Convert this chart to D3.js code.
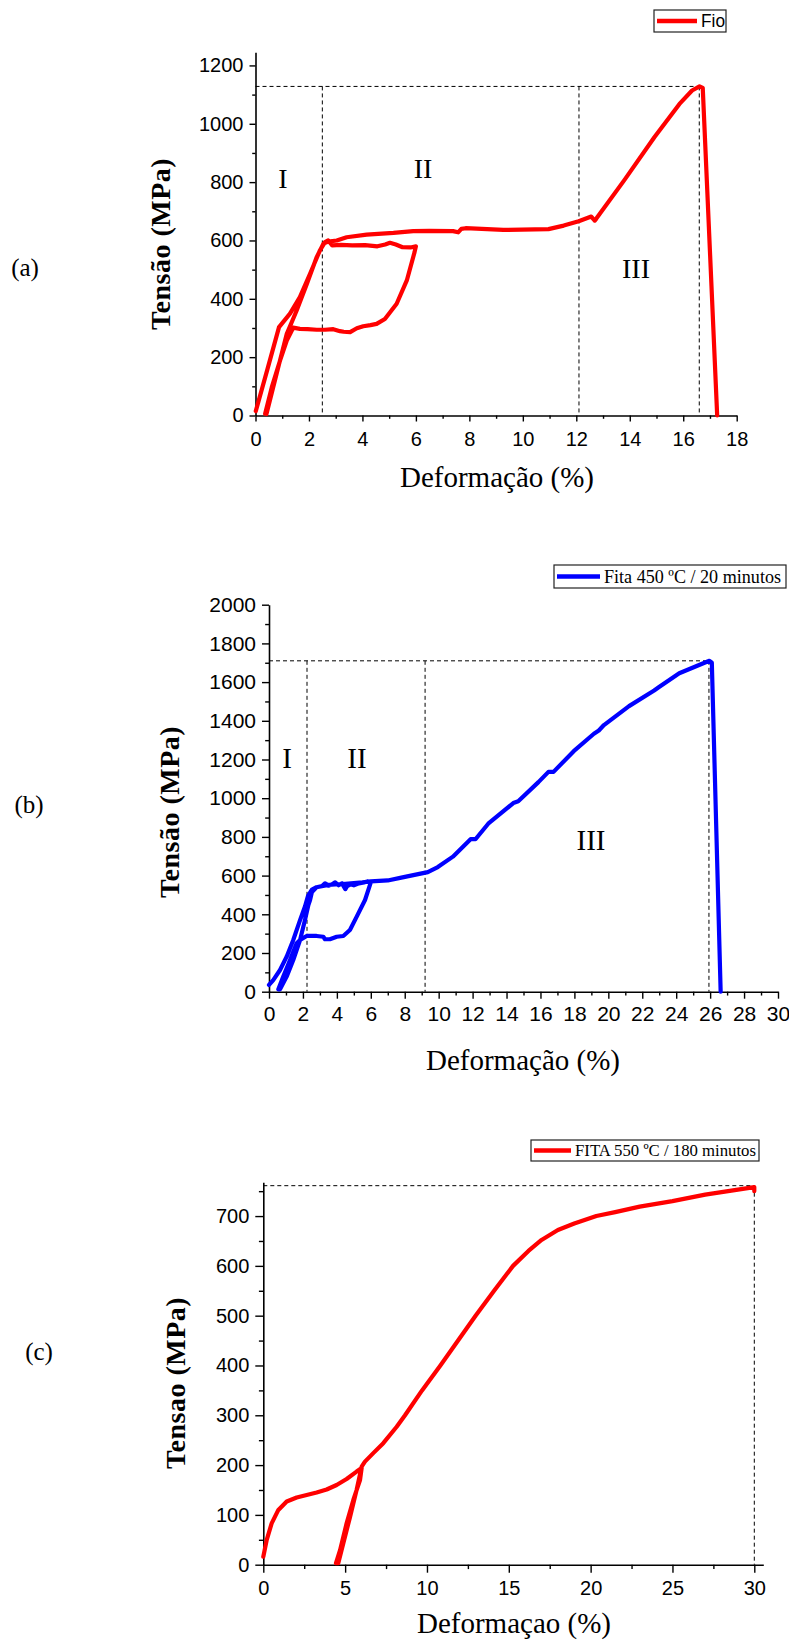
<!DOCTYPE html>
<html><head><meta charset="utf-8">
<script src="https://cdn.jsdelivr.net/npm/d3@7"></script>
<style>
body{margin:0;background:#fff;}
svg{display:block;}
</style></head>
<body>
<svg id="chart" width="789" height="1644"></svg>
<script>
// ---------- (a) Fio ----------
const fioStrain = [0.01,0.45,0.88,1.29,1.66,2.04,2.41,2.6,2.72,2.87,3.2,3.62,4.1,4.56,4.85,5.03,5.25,5.5,5.8,6.0,
  5.95,5.66,5.28,4.84,4.53,4.3,4.03,3.79,3.54,3.3,3.16,2.91,2.6,2.29,1.95,1.66,1.41,1.17,0.92,0.61,0.36,
  0.41,0.79,1.17,1.54,1.92,2.29,2.54,2.72,3.04,3.41,4.16,5.16,5.9,6.5,7.39,7.58,7.7,7.86,9.27,10.96,11.53,12.09,12.56,12.69,12.75,13.79,14.92,15.86,16.33,16.61,16.73,17.27];
const fioStress = [15,160,303,349,406,486,566,594,600,583,585,583,584,580,586,592,586,577,576,580,
  560,463,383,331,314,310,306,299,286,287,289,296,294,294,296,297,301,257,189,97,6,
  5,143,280,360,451,543,589,596,600,611,620,626,632,633,632,628,640,642,636,639,651,666,682,668,675,806,954,1068,1114,1128,1123,0];
const fioXTicks = [0,2,4,6,8,10,12,14,16,18];
const fioYTicks = [0,200,400,600,800,1000,1200];
const fioPeak = 1128;
const fioDividers = [2.5,12.1,16.6];

// ---------- (b) Fita 450 ----------
const f450Strain = [0,0.25,0.65,1.04,1.43,1.83,2.12,2.3,2.53,2.8,3.13,3.3,3.5,3.72,3.9,4.1,4.3,4.5,4.6,4.8,5.0,5.3,5.6,5.8,6.0,
  5.66,5.17,4.77,4.38,3.99,3.59,3.3,3.2,2.81,2.22,1.83,1.63,1.24,0.84,0.55,
  0.65,1.04,1.43,1.83,2.12,2.32,2.42,2.53,2.8,3.5,4.5,5.5,6.0,7.0,7.87,9.36,9.95,10.84,11.88,12.17,12.92,14.4,14.69,15.88,16.47,16.77,17.96,19.15,19.44,19.74,21.22,22.7,22.99,24.18,25.67,25.96,26.1,26.62];
const f450Stress = [35,60,112,181,267,370,440,495,528,540,546,560,548,555,565,550,560,530,545,555,550,560,565,570,565,
  474,388,319,288,284,271,271,284,288,288,267,250,164,78,12,
  12,78,164,267,370,448,474,515,540,552,558,565,570,575,591,618,644,698,788,788,868,975,984,1083,1136,1136,1243,1333,1350,1378,1476,1557,1575,1646,1700,1710,1700,0];
const f450XTicks = [0,2,4,6,8,10,12,14,16,18,20,22,24,26,28,30];
const f450YTicks = [0,200,400,600,800,1000,1200,1400,1600,1800,2000];
const f450Peak = 1710;
const f450Dividers = [2.24,9.2,25.93];

// ---------- (c) Fita 550 ----------
const f550Strain = [0,0.21,0.51,0.92,1.43,2.04,2.65,3.26,3.87,4.48,5.09,5.7,6.01,
  5.91,5.5,5.09,4.69,4.44,
  4.58,4.89,5.3,5.7,6.01,6.21,6.72,7.33,8.15,8.66,9.7,10.82,11.9,12.97,14.1,15.26,16.2,17.0,18.0,19.0,20.35,21.5,23,25,27,29,30,30];
const f550Stress = [16,50,83,110,127,135,140,145,151,160,172,187,194,
  170,130,83,29,3,
  3,43,96,150,197,207,224,244,277,300,350,400,450,500,550,600,630,652,672,685,700,708,719,730,743,753,758,750];
const f550XTicks = [0,5,10,15,20,25,30];
const f550YTicks = [0,100,200,300,400,500,600,700];
const f550Peak = 761;
const f550Dividers = [30];

const svg = d3.select("#chart");
const fmt = d3.format("d");

function panel(o){
  const g = svg.append("g");
  const x = d3.scaleLinear().domain(o.xDomain).range(o.xRange);
  const y = d3.scaleLinear().domain(o.yDomain).range(o.yRange);

  // dashed reference lines
  const dash = g.append("g").attr("stroke","#000").attr("stroke-width",1).attr("stroke-dasharray","4,3").attr("fill","none");
  dash.append("line").attr("x1",x(0)).attr("x2",x(o.dividers[o.dividers.length-1])).attr("y1",y(o.peak)).attr("y2",y(o.peak));
  o.dividers.forEach(d=>{
    dash.append("line").attr("x1",x(d)).attr("x2",x(d)).attr("y1",y(o.peak)).attr("y2",y(0));
  });

  // axes
  g.append("g").attr("transform",`translate(0,${y(0)})`)
    .call(d3.axisBottom(x).tickValues(o.xTicks).tickFormat(fmt).tickSize(o.tick).tickPadding(o.xPad).tickSizeOuter(0));
  g.append("g").attr("transform",`translate(0,${y(0)})`)
    .call(d3.axisBottom(x).tickValues(o.xMinor).tickSize(o.tick*0.55).tickFormat("").tickSizeOuter(0))
    .select(".domain").remove();
  g.append("g").attr("transform",`translate(${x(0)},0)`)
    .call(d3.axisLeft(y).tickValues(o.yTicks).tickFormat(fmt).tickSize(o.tick).tickPadding(o.yPad).tickSizeOuter(0));
  g.append("g").attr("transform",`translate(${x(0)},0)`)
    .call(d3.axisLeft(y).tickValues(o.yMinor).tickSize(o.tick*0.55).tickFormat("").tickSizeOuter(0))
    .select(".domain").remove();
  g.selectAll(".domain").attr("stroke","#000").attr("stroke-width",1.6);
  g.selectAll(".tick line").attr("stroke","#000").attr("stroke-width",1.4);
  g.selectAll(".tick text").attr("font-family","'Liberation Sans', Arial, sans-serif")
    .attr("font-size",o.tickFont).attr("fill","#000");

  // data curve
  const pts = o.xs.map((v,i)=>[v,o.ys[i]]);
  g.append("path").datum(pts)
    .attr("d", d3.line().x(d=>x(d[0])).y(d=>y(d[1])))
    .attr("fill","none").attr("stroke",o.color).attr("stroke-width",4.2)
    .attr("stroke-linejoin","round").attr("stroke-linecap","round");

  // titles
  g.append("text").attr("x",o.xTitle[0]).attr("y",o.xTitle[1]).attr("text-anchor","middle")
    .attr("font-family","'Liberation Serif','Times New Roman',serif").attr("font-size",29)
    .text(o.xLabel);
  g.append("text").attr("transform",`translate(${o.yTitle[0]},${o.yTitle[1]}) rotate(-90)`)
    .attr("text-anchor","middle").attr("font-weight","bold")
    .attr("font-family","'Liberation Serif','Times New Roman',serif").attr("font-size",28)
    .attr("letter-spacing",0.5)
    .text(o.yLabel);
  g.append("text").attr("x",o.tag[0]).attr("y",o.tag[1]).attr("text-anchor","middle")
    .attr("font-family","'Liberation Serif','Times New Roman',serif").attr("font-size",25)
    .text(o.tagText);
  (o.regions||[]).forEach(r=>{
    g.append("text").attr("x",r[1]).attr("y",r[2]).attr("text-anchor","middle")
      .attr("font-family","'Liberation Serif','Times New Roman',serif").attr("font-size",o.regionFont)
      .text(r[0]);
  });

  // legend
  const L = o.legend;
  g.append("rect").attr("x",L.x).attr("y",L.y).attr("width",L.w).attr("height",L.h)
    .attr("fill","#fff").attr("stroke","#222").attr("stroke-width",1.2);
  g.append("line").attr("x1",L.x+3).attr("x2",L.x+3+L.lw).attr("y1",L.y+L.h/2).attr("y2",L.y+L.h/2)
    .attr("stroke",o.color).attr("stroke-width",4.5);
  g.append("text").attr("x",L.x+L.lw+7).attr("y",L.y+L.h/2+L.fs*0.34)
    .attr("font-family",L.font).attr("font-size",L.fs)
    .attr("textLength",L.tl).attr("lengthAdjust","spacingAndGlyphs")
    .text(L.text);
}

panel({
  xs:fioStrain, ys:fioStress, color:"#ff0000",
  xDomain:[0,18], xRange:[255.5,736.7], yDomain:[0,1245], yRange:[415.5,52.3],
  xTicks:fioXTicks, yTicks:fioYTicks,
  xMinor:d3.range(1,18,2), yMinor:d3.range(100,1245,200),
  tick:6, xPad:10, yPad:6, tickFont:20,
  peak:fioPeak, dividers:fioDividers,
  xLabel:"Deformação (%)", xTitle:[497,487],
  yLabel:"Tensão (MPa)", yTitle:[170,244],
  tag:[25,276], tagText:"(a)",
  regions:[["I",283,188],["II",423,178],["III",636,278]], regionFont:28,
  legend:{x:654,y:10,w:72,h:22,lw:40,fs:18,tl:24,text:"Fio",font:"'Liberation Sans', Arial, sans-serif"}
});

panel({
  xs:f450Strain, ys:f450Stress, color:"#0000ff",
  xDomain:[0,30], xRange:[269,778], yDomain:[0,2000], yRange:[991.7,604.7],
  xTicks:f450XTicks, yTicks:f450YTicks,
  xMinor:d3.range(1,30,2), yMinor:d3.range(100,2000,200),
  tick:7, xPad:7, yPad:6, tickFont:21,
  peak:f450Peak, dividers:f450Dividers,
  xLabel:"Deformação (%)", xTitle:[523,1070],
  yLabel:"Tensão (MPa)", yTitle:[179,812],
  tag:[29,813], tagText:"(b)",
  regions:[["I",287,768],["II",357,768],["III",591,850]], regionFont:29,
  legend:{x:554,y:565,w:232,h:23,lw:43,fs:19,tl:177,text:"Fita 450 ºC / 20 minutos",font:"'Liberation Serif','Times New Roman',serif"}
});

panel({
  xs:f550Strain, ys:f550Stress, color:"#ff0000",
  xDomain:[0,30.55], xRange:[263.3,763.3], yDomain:[0,768], yRange:[1564.7,1182.2],
  xTicks:f550XTicks, yTicks:f550YTicks,
  xMinor:d3.range(2.5,30,5), yMinor:d3.range(50,768,100),
  tick:8, xPad:8, yPad:6, tickFont:20,
  peak:f550Peak, dividers:f550Dividers,
  xLabel:"Deformaçao (%)", xTitle:[514,1633],
  yLabel:"Tensao (MPa)", yTitle:[185,1383],
  tag:[39,1360], tagText:"(c)",
  regions:[], regionFont:28,
  legend:{x:531,y:1140,w:228,h:21,lw:37,fs:17,tl:181,text:"FITA 550 ºC / 180 minutos",font:"'Liberation Serif','Times New Roman',serif"}
});
</script>
</body></html>
